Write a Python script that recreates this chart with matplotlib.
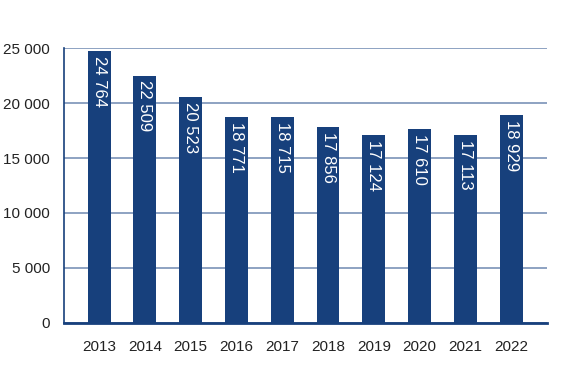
import matplotlib.pyplot as plt

# data
years = ['2013', '2014', '2015', '2016', '2017', '2018', '2019', '2020', '2021', '2022']
values = [24764, 22509, 20523, 18771, 18715, 17856, 17124, 17610, 17113, 18929]
yticks = [0, 5000, 10000, 15000, 20000, 25000]

bar_color = '#17407c'
grid_color = '#7a92b8'

plt.rcParams['font.family'] = ['Liberation Sans', 'DejaVu Sans']

fig = plt.figure(figsize=(5.8, 3.79), dpi=100)
ax = fig.add_axes([0.110, 0.148, 0.833, 0.725])

x = range(len(years))
ax.bar(x, values, width=0.5, color=bar_color, zorder=3)

def fmt(v):
    return f'{v:,}'.replace(',', ' ')

for i, v in zip(x, values):
    ax.text(i, v - 450, fmt(v), rotation=-90, ha='center', va='top',
            color='white', fontsize=12, zorder=4)

ax.set_xlim(-0.77, 9.78)
ax.set_ylim(0, 25000)
ax.set_yticks(yticks)
ax.set_yticklabels([fmt(t) for t in yticks])
ax.set_xticks(list(x))
ax.set_xticklabels(years)

ax.yaxis.grid(True, color=grid_color, linewidth=1.2, zorder=0)
ax.tick_params(axis='both', length=0, labelsize=11, labelcolor='#222222')
ax.tick_params(axis='y', pad=10)
ax.tick_params(axis='x', pad=12)

for s in ['top', 'right']:
    ax.spines[s].set_visible(False)
ax.spines['left'].set_color(bar_color)
ax.spines['bottom'].set_color(bar_color)
ax.spines['left'].set_linewidth(1.2)
ax.spines['bottom'].set_linewidth(2)

fig.savefig('out.png', dpi=100)
